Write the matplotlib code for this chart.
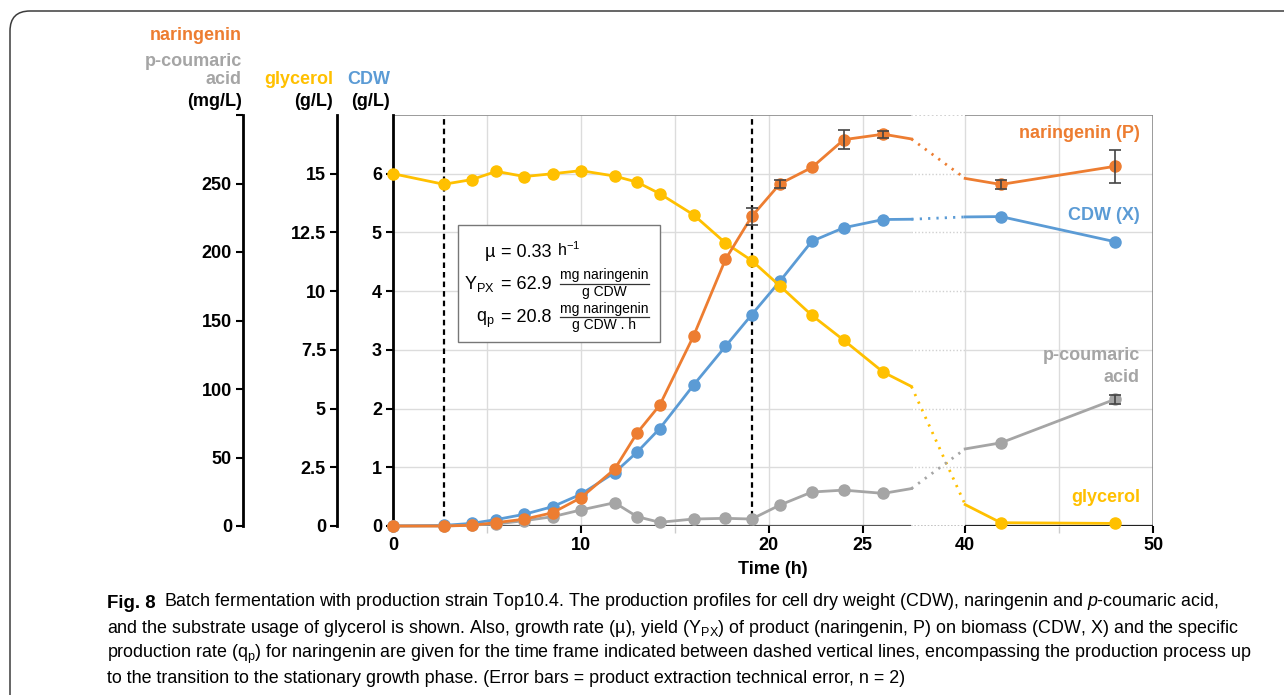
import numpy as np
import matplotlib
matplotlib.use("Agg")
from matplotlib import pyplot as plt
from matplotlib.patches import Rectangle, FancyBboxPatch
from matplotlib.lines import Line2D

#---------------------------------Data--------------------------------
time_h = [0, 2.7, 4.2, 5.5, 7.0, 8.5, 10.0, 11.8, 13.0, 14.2, 16.0, 17.7, 19.1,
          20.6, 22.3, 24.0, 26.1, 41.9, 48.0]
cdw_gl = [0.0, 0.01, 0.045, 0.11, 0.20, 0.33, 0.54, 0.91, 1.26, 1.66, 2.40, 3.06,
          3.60, 4.17, 4.85, 5.08, 5.22, 5.27, 4.84]
glycerol_gl = [15.0, 14.55, 14.75, 15.1, 14.88, 15.0, 15.13, 14.9, 14.64, 14.15,
               13.25, 12.05, 11.3, 10.22, 8.97, 7.91, 6.55, 0.14, 0.11]
naringenin_mgl = [0, 0, 0.5, 2.5, 5, 9.7, 20.6, 41.5, 68, 88.2, 138.7, 194.6, 226,
                  249.8, 261.7, 282, 286, 249.3, 262.6]
naringenin_err = [0, 0, 0, 0, 0, 0, 0, 0, 0, 0, 0, 0, 6.1,
                  3.0, 0, 6.8, 2.5, 3.0, 11.9]
coumaric_mgl = [0, 0, 0.7, 1.5, 3.9, 6.8, 11.7, 17, 6.8, 2.7, 5.1, 5.6, 5.1, 15.3,
                24.8, 26.2, 23.8, 60.7, 92.6]
coumaric_err = [0, 0, 0, 0, 0, 0, 0, 0, 0, 0, 0, 0, 0, 0, 0, 0, 0, 0, 3.3]
phase_lines = [2.7, 19.1]

x_ticks = [0, 10, 20, 25, 40, 50]
x_minor = [5, 15, 45]
x_grid = [5, 10, 15, 20, 25, 40, 45]
cdw_ticks = [0, 1, 2, 3, 4, 5, 6]
gly_ticks = [0, 2.5, 5, 7.5, 10, 12.5, 15]
gly_labels = ["0", "2.5", "5", "7.5", "10", "12.5", "15"]
nar_ticks = [0, 50, 100, 150, 200, 250, 300]
nar_labels = ["0", "50", "100", "150", "200", "250", ""]

ORANGE = "#ED7D31"
BLUE = "#5B9BD5"
YELLOW = "#FFC000"
GRAY = "#A5A5A5"

# axis break (Prism style)
BRK_A, BRK_B, GAP = 27.6, 40.0, 2.86

plt.rcParams['font.family'] = ['Liberation Sans', 'DejaVu Sans']
plt.rcParams['mathtext.fontset'] = 'custom'
plt.rcParams['mathtext.rm'] = 'Liberation Sans'
plt.rcParams['mathtext.it'] = 'Liberation Sans:italic'
plt.rcParams['mathtext.bf'] = 'Liberation Sans:bold'
CAPFONT = ['Liberation Sans Narrow', 'Liberation Sans', 'DejaVu Sans']
FS = 13

def fwd(t):
    t = np.asarray(t, dtype=float)
    return np.where(t <= BRK_A, t,
                    np.where(t >= BRK_B, t - (BRK_B - BRK_A) + GAP,
                             BRK_A + (t - BRK_A) * GAP / (BRK_B - BRK_A)))

def inv(u):
    u = np.asarray(u, dtype=float)
    return np.where(u <= BRK_A, u,
                    np.where(u >= BRK_A + GAP, u + (BRK_B - BRK_A) - GAP,
                             BRK_A + (u - BRK_A) * (BRK_B - BRK_A) / GAP))

def broken_hline(axis, y, color, lw, dot_color):
	axis.hlines(y, 0, BRK_A, colors=color, lw=lw, zorder=0.5)
	axis.hlines(y, BRK_A, BRK_B, colors=dot_color, lw=lw, linestyles=(0, (1, 1.5)), zorder=0.5)
	axis.hlines(y, BRK_B, 50, colors=color, lw=lw, zorder=0.5)

def draw_series(axis, y, err, color):
	t = np.asarray(time_h, dtype=float)
	y = np.asarray(y, dtype=float)
	err = np.asarray(err, dtype=float)
	left = t < BRK_A
	right = t > BRK_B
	# line end points at the edges of the axis break
	ya = np.interp(BRK_A, t, y)
	yb = np.interp(BRK_B, t, y)
	axis.plot(np.append(t[left], BRK_A), np.append(y[left], ya), color=color, lw=2.0,
	          clip_on=False, zorder=2)
	axis.plot([BRK_A, BRK_B], [ya, yb], color=color, lw=2.0, ls=(0, (0.8, 2.2)),
	          clip_on=False, zorder=2)
	axis.plot(np.insert(t[right], 0, BRK_B), np.insert(y[right], 0, yb), color=color,
	          lw=2.0, clip_on=False, zorder=2)
	axis.plot(t, y, 'o', ms=8, color=color, clip_on=False, zorder=3)
	m = err > 0
	if m.any():
		axis.errorbar(t[m], y[m], yerr=err[m], fmt='none', ecolor='#444444',
		              elinewidth=1.2, capsize=4, capthick=1.2, zorder=4, clip_on=False)

#---------------------------------Figure--------------------------------
W, H = 1284, 695
fig = plt.figure(figsize=(W / 100, H / 100), dpi=100)
fig.patch.set_facecolor('white')

def fx(px):
	return px / W

def fy(py):
	return 1 - py / H

ax = fig.add_axes([fx(393), fy(526), 760 / W, 411 / H])
ax.set_xscale('function', functions=(fwd, inv))
ax.set_xlim(0, 50)
ax.set_ylim(0, 7)
for s in ['top', 'right', 'bottom']:
	ax.spines[s].set_visible(False)
ax.spines['left'].set_linewidth(2.0)

# grid, frame, bottom axis line
for v in cdw_ticks[1:]:
	broken_hline(ax, v, '#dcdcdc', 1.0, '#d0d0d0')
ax.vlines(x_grid, 0, 7, colors='#dcdcdc', lw=1.0, zorder=0.5)
broken_hline(ax, 7, '#8a8a8a', 1.2, '#c8c8c8')
ax.vlines([50], 0, 7, colors='#8a8a8a', lw=1.2, zorder=0.5)
ax.hlines(0, 0, BRK_A, colors='#555555', lw=1.6, zorder=1)
ax.hlines(0, BRK_A, BRK_B, colors='#bbbbbb', lw=1.2, linestyles=(0, (1, 1)), zorder=1)
ax.hlines(0, BRK_B, 50, colors='#222222', lw=1.6, zorder=1)
ax.vlines(phase_lines, 0, 7, colors='black', lw=1.6, linestyles=(0, (2.5, 1.8)), zorder=1)

ax.set_xticks(x_ticks, labels=[str(v) for v in x_ticks], fontweight='bold', fontsize=FS)
ax.set_xticks(x_minor, minor=True)
ax.tick_params(axis='x', which='major', length=5, width=1.5, pad=3)
ax.tick_params(axis='x', which='minor', length=5, width=1.0, color='#cccccc')
ax.set_xlabel("Time (h)", fontweight='bold', fontsize=FS, labelpad=5)
ax.set_yticks(cdw_ticks, labels=[str(v) for v in cdw_ticks], fontweight='bold', fontsize=FS)
ax.tick_params(axis='y', length=5, width=1.5, pad=3)

ax_g = ax.twinx()
ax_n = ax.twinx()
for a, off in [(ax_g, -56 / 760), (ax_n, -150 / 760)]:
	for s in ['top', 'right', 'bottom']:
		a.spines[s].set_visible(False)
	a.spines['left'].set_visible(True)
	a.spines['left'].set_position(('axes', off))
	a.spines['left'].set_linewidth(2.0)
	a.yaxis.tick_left()
	a.yaxis.set_label_position('left')
	a.tick_params(axis='y', length=5, width=1.5, pad=3)
ax_g.set_ylim(0, 17.5)
ax_g.set_yticks(gly_ticks, labels=gly_labels, fontweight='bold', fontsize=FS)
ax_n.set_ylim(0, 300)
ax_n.set_yticks(nar_ticks, labels=nar_labels, fontweight='bold', fontsize=FS)

draw_series(ax, cdw_gl, [0] * len(time_h), BLUE)
draw_series(ax_g, glycerol_gl, [0] * len(time_h), YELLOW)
draw_series(ax_n, coumaric_mgl, coumaric_err, GRAY)
draw_series(ax_n, naringenin_mgl, naringenin_err, ORANGE)

# series labels inside the plot
lab_x = (1140 - 393) / 760
for txt, yy, c in [("naringenin (P)", 133, ORANGE), ("CDW (X)", 216, BLUE),
                   ("p-coumaric", 356, GRAY), ("acid", 377, GRAY), ("glycerol", 498, YELLOW)]:
	ax_n.text(lab_x, (526 - yy) / 411, txt, transform=ax.transAxes, ha='right', va='center',
	          color=c, fontweight='bold', fontsize=FS, zorder=6)

# kinetic parameter box
box = Rectangle(((458 - 393) / 760, (526 - 342) / 411), (660 - 458) / 760, (342 - 225) / 411,
                transform=ax.transAxes, facecolor='white', edgecolor='#777777', lw=1.0, zorder=5)
ax_n.add_patch(box)
rows = [(257, "µ", "= 0.33", r"$\mathrm{h^{-1}}$", None),
        (289, r"Y$_{\mathrm{PX}}$", "= 62.9", "mg naringenin", "g CDW"),
        (322, r"q$_{\mathrm{p}}$", "= 20.8", "mg naringenin", "g CDW . h")]
for yy, name, val, num, den in rows:
	fig.text(fx(495), fy(yy), name, ha='right', va='baseline', fontsize=13, zorder=7)
	fig.text(fx(501), fy(yy), val, ha='left', va='baseline', fontsize=13, zorder=7)
	if den is None:
		fig.text(fx(557), fy(yy - 1), num, ha='left', va='baseline', fontsize=11.5, zorder=7)
	else:
		bar_y = yy - 5
		fig.text(fx(604.5), fy(bar_y - 1.5), num, ha='center', va='bottom', fontsize=10, zorder=7)
		fig.text(fx(604.5), fy(bar_y + 1), den, ha='center', va='top', fontsize=10, zorder=7)
		fig.add_artist(Line2D([fx(560), fx(649)], [fy(bar_y), fy(bar_y)], color='#333333',
		                      lw=0.9, transform=fig.transFigure, zorder=7))

# axis titles at the top left
for txt, px, py, c in [("naringenin", 242, 35, ORANGE), ("p-coumaric", 242, 62, GRAY),
                       ("acid", 242, 79, GRAY), ("(mg/L)", 242, 101, 'black'),
                       ("glycerol", 333, 79, YELLOW), ("(g/L)", 333, 101, 'black'),
                       ("CDW", 390, 79, BLUE), ("(g/L)", 390, 101, 'black')]:
	fig.text(fx(px), fy(py), txt, ha='right', va='center', color=c, fontweight='bold', fontsize=FS)

# page frame
frame = FancyBboxPatch((0.10, -0.3), 13.0, 6.95 - 0.11 + 0.3,
                       boxstyle="round,pad=0,rounding_size=0.2",
                       transform=fig.dpi_scale_trans, facecolor='none',
                       edgecolor='#3c3c3c', lw=1.1)
fig.add_artist(frame)

# caption
cap_lines = [
	"Batch fermentation with production strain Top10.4. The production profiles for cell dry weight (CDW), naringenin and $\\mathit{p}$-coumaric acid,",
	"and the substrate usage of glycerol is shown. Also, growth rate (µ), yield (Y$_{\\mathrm{PX}}$) of product (naringenin, P) on biomass (CDW, X) and the specific",
	"production rate (q$_{\\mathrm{p}}$) for naringenin are given for the time frame indicated between dashed vertical lines, encompassing the production process up",
	"to the transition to the stationary growth phase. (Error bars = product extraction technical error, n = 2)",
]
CFS = 12.9
t1 = fig.text(fx(107), fy(608), "Fig. 8", family=CAPFONT, fontweight='bold', fontsize=CFS + 0.5,
              va='baseline', color='black')
ax.annotate(cap_lines[0], xy=(1, 0), xycoords=t1, xytext=(6, 0), textcoords='offset points',
            family=CAPFONT, fontsize=CFS, va='bottom', ha='left', color='black')
for i, line in enumerate(cap_lines[1:]):
	fig.text(fx(107), fy(633 + 25 * i), line, family=CAPFONT, fontsize=CFS, va='baseline',
	         color='black')

fig.savefig("out.png", dpi=100)
